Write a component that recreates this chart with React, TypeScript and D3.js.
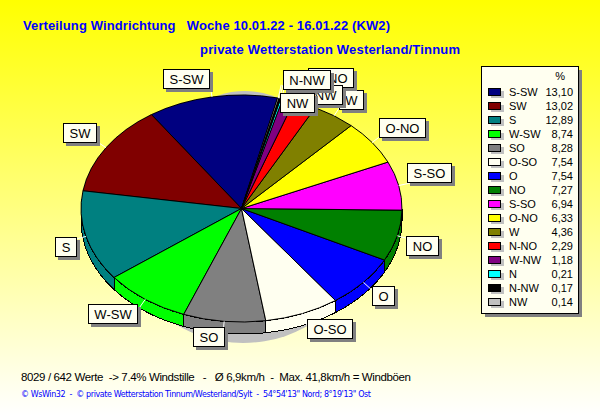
import { useEffect, useRef } from 'react';
import * as d3 from 'd3';

const directions = ['S-SW', 'SW', 'S', 'W-SW', 'SO', 'O-SO', 'O', 'NO', 'S-SO', 'O-NO', 'W', 'N-NO', 'W-NW', 'N', 'N-NW', 'NW'];
const percent = [13.10, 13.02, 12.89, 8.74, 8.28, 7.54, 7.54, 7.27, 6.94, 6.33, 4.36, 2.29, 1.18, 0.21, 0.17, 0.14];
const colors = ['#000080', '#800000', '#008080', '#00ff00', '#808080', '#fffff0', '#0000ff', '#008000', '#ff00ff', '#ffff00', '#808000', '#ff0000', '#800080', '#00ffff', '#000000', '#c0c0c0'];

const fmt = (v: number) => v.toFixed(2).replace('.', ',');

export default function App() {
  const svgRef = useRef<SVGSVGElement>(null);

  useEffect(() => {
    const svg = d3.select(svgRef.current);
    svg.selectAll('*').remove();

    const W = 600, H = 415;
    const cx = 241.5, cy = 208.5, rx = 160.5, ry = 113.5, depth = 12;
    const font = "'Liberation Sans', Arial, sans-serif";

    // Background
    const grad = svg.append('defs').append('linearGradient')
      .attr('id', 'bg').attr('x1', 0).attr('x2', 0).attr('y1', 0).attr('y2', 1);
    grad.append('stop').attr('offset', '0%').attr('stop-color', '#ffff00');
    grad.append('stop').attr('offset', '100%').attr('stop-color', '#ffffff');
    svg.append('rect').attr('width', W).attr('height', H).attr('fill', 'url(#bg)');

    // Titles
    svg.append('text').attr('x', 23).attr('y', 30).attr('font-family', font).attr('font-size', 13)
      .attr('font-weight', 'bold').attr('fill', '#0000ff')
      .attr('textLength', 367)
      .text('Verteilung Windrichtung\u00a0\u00a0\u00a0Woche 10.01.22 - 16.01.22 (KW2)');
    svg.append('text').attr('x', 200).attr('y', 54).attr('font-family', font).attr('font-size', 13)
      .attr('font-weight', 'bold').attr('fill', '#0000ff')
      .attr('textLength', 260)
      .text('private Wetterstation Westerland/Tinnum');

    // Pie: the slices run counter-clockwise from just right of the top
    const startAngle = (13 * Math.PI) / 180;
    const pieGen = d3.pie<number>().sort(null)
      .startAngle(startAngle)
      .endAngle(startAngle - 2 * Math.PI);
    const arcs = pieGen(percent);
    const px = (a: number, k = 1) => cx + rx * k * Math.sin(a);
    const py = (a: number, k = 1) => cy - ry * k * Math.cos(a);

    // Shadow: only a sliver shows under the front and behind the top
    svg.append('ellipse').attr('cx', 243).attr('cy', 253).attr('rx', 110).attr('ry', 90).attr('fill', '#c0c0c0');
    svg.append('ellipse').attr('cx', 245).attr('cy', 149).attr('rx', 70).attr('ry', 58).attr('fill', '#c0c0c0');

    // Side wall: only the part of each slice that faces the front
    const edge = d3.line<[number, number]>();
    const norm = (a: number) => ((a % (2 * Math.PI)) + 2 * Math.PI) % (2 * Math.PI);
    arcs.forEach((d, i) => {
      // d.endAngle < d.startAngle since the pie runs backwards
      let a1 = norm(d.endAngle);
      let a0 = a1 + (d.startAngle - d.endAngle);
      a0 = Math.min(a0, 1.5 * Math.PI);
      a1 = Math.max(a1, 0.5 * Math.PI);
      if (a0 <= a1) return;
      const angles = d3.range(0, 41).map(k => a1 + ((a0 - a1) * k) / 40);
      const pts: [number, number][] = [
        ...angles.map(a => [px(a), py(a)] as [number, number]),
        ...angles.slice().reverse().map(a => [px(a), py(a) + depth] as [number, number]),
      ];
      svg.append('path').attr('d', edge(pts) + 'Z')
        .attr('fill', colors[i]).attr('stroke', '#000').attr('stroke-width', 1)
        .attr('shape-rendering', 'crispEdges');
    });

    // Top surface
    const arcGen = d3.arc<d3.PieArcDatum<number>>().innerRadius(0).outerRadius(rx);
    const top = svg.append('g').attr('transform', `translate(${cx},${cy}) scale(1,${ry / rx})`);
    top.selectAll('path').data(arcs).join('path')
      .attr('d', d => arcGen(d))
      .attr('fill', (_, i) => colors[i])
      .attr('stroke', '#000').attr('stroke-width', 1)
      .attr('vector-effect', 'non-scaling-stroke')
      .attr('shape-rendering', 'crispEdges');

    // Slice labels: white tick from the rim, box placed by hand, later ones on top
    const labelLeft = [163, 63, 55, 88, 193, 307, 372, 406, 407, 379, 339, 308, 292, 292, 283, 280];
    const labelTop = [69, 123, 237, 304, 327, 319, 286, 236, 163, 118, 90, 68, 85, 72, 70, 93];
    const ticks = svg.append('g');
    const labels = svg.append('g');
    arcs.forEach((d, i) => {
      const mid = (d.startAngle + d.endAngle) / 2;
      ticks.append('line')
        .attr('x1', px(mid)).attr('y1', py(mid))
        .attr('x2', px(mid, 1.08)).attr('y2', py(mid, 1.12))
        .attr('stroke', '#fff').attr('stroke-width', 1);

      const g = labels.append('g');
      const txt = g.append('text').attr('font-family', font).attr('font-size', 13)
        .attr('text-anchor', 'middle').attr('fill', '#000').text(directions[i]);
      const tw = (txt.node() as SVGTextElement).getComputedTextLength();
      const bw = Math.round(tw + 12), bh = 19;
      const bx = labelLeft[i], by = labelTop[i];
      g.insert('rect', 'text').attr('x', bx + 3).attr('y', by + 3).attr('width', bw + 1).attr('height', bh + 1)
        .attr('fill', '#808080').attr('shape-rendering', 'crispEdges');
      g.insert('rect', 'text').attr('x', bx + 0.5).attr('y', by + 0.5).attr('width', bw).attr('height', bh)
        .attr('rx', 1).attr('fill', '#fffff0').attr('stroke', '#000').attr('stroke-width', 1)
        .attr('shape-rendering', 'crispEdges');
      txt.attr('x', bx + bw / 2 + 0.5).attr('y', by + 14.5);
    });

    // Legend
    const lx = 481, ly = 66, lw = 97, lh = 247;
    svg.append('rect').attr('x', lx + 4).attr('y', ly + 4).attr('width', lw).attr('height', lh)
      .attr('fill', '#808080');
    svg.append('rect').attr('x', lx + 0.5).attr('y', ly + 0.5).attr('width', lw).attr('height', lh)
      .attr('fill', '#fffff0').attr('stroke', '#000').attr('stroke-width', 1);
    svg.append('text').attr('x', 565).attr('y', 80).attr('text-anchor', 'end')
      .attr('font-family', font).attr('font-size', 11).text('%');

    const rowY = d3.scalePoint<string>().domain(directions).range([96, 306]);
    directions.forEach((name, i) => {
      const y = rowY(name) as number;
      svg.append('rect').attr('x', 491).attr('y', y - 5).attr('width', 13).attr('height', 7)
        .attr('fill', '#c0c0c0');
      svg.append('rect').attr('x', 488.5).attr('y', y - 7.5).attr('width', 12).attr('height', 7)
        .attr('fill', colors[i]).attr('stroke', '#000').attr('stroke-width', 1)
        .attr('shape-rendering', 'crispEdges');
      svg.append('text').attr('x', 509).attr('y', y).attr('font-family', font).attr('font-size', 11)
        .attr('fill', '#000').text(name);
      svg.append('text').attr('x', 573).attr('y', y).attr('text-anchor', 'end')
        .attr('font-family', font).attr('font-size', 11).attr('fill', '#000').text(fmt(percent[i]));
    });

    // Footer
    svg.append('text').attr('x', 21).attr('y', 381).attr('font-family', font).attr('font-size', 11.5)
      .attr('fill', '#000').attr('textLength', 390)
      .text('8029 / 642 Werte\u00a0\u00a0-> 7.4% Windstille\u00a0\u00a0\u00a0-\u00a0\u00a0\u00a0Ø 6,9km/h\u00a0\u00a0-\u00a0\u00a0Max. 41,8km/h = Windböen');
    svg.append('text').attr('x', 21).attr('y', 397).attr('font-family', "'DejaVu Sans', sans-serif").attr('font-size', 8)
      .attr('fill', '#0000ff').attr('textLength', 350)
      .text('© WsWin32\u00a0\u00a0-\u00a0\u00a0© private Wetterstation Tinnum/Westerland/Sylt\u00a0\u00a0-\u00a0\u00a054°54\'13" Nord; 8°19\'13" Ost');
  }, []);

  return (
    <svg
      ref={svgRef}
      width={600}
      height={415}
      style={{ position: 'absolute', left: 0, top: 0, display: 'block' }}
    />
  );
}
